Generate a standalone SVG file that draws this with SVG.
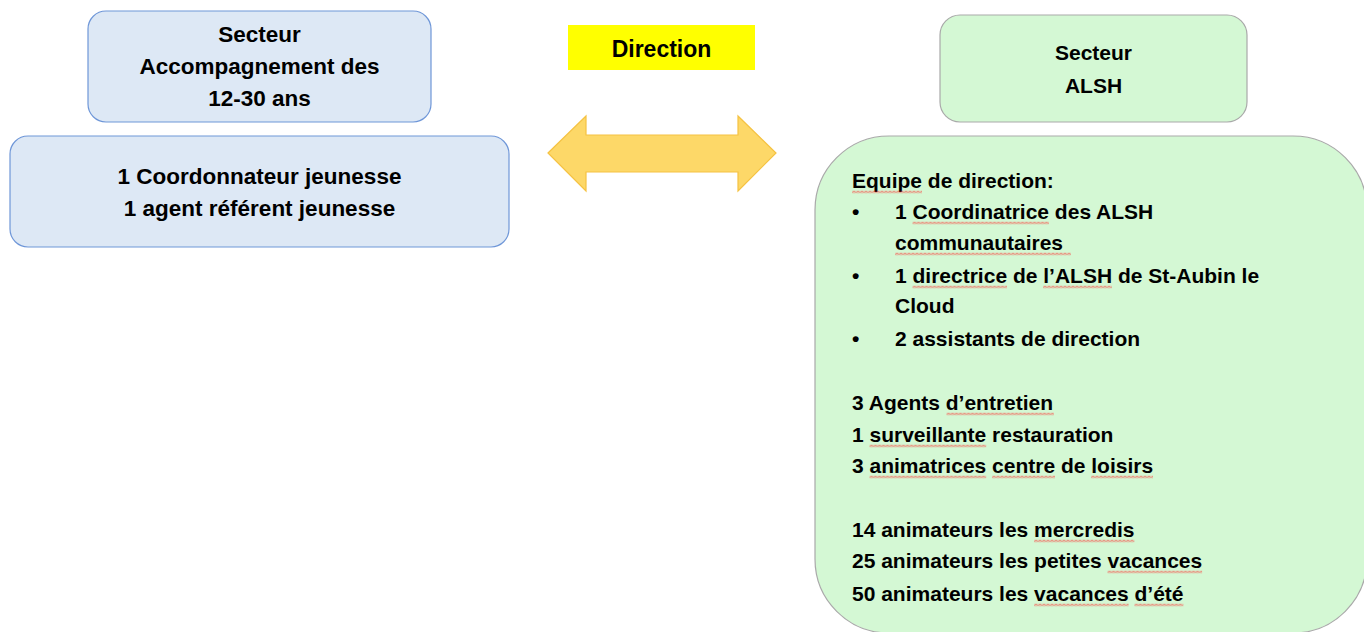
<svg xmlns="http://www.w3.org/2000/svg" width="1364" height="632" viewBox="0 0 1364 632">
<defs>
<style>
.t{font-family:"Liberation Sans",Arial,sans-serif;font-weight:bold;font-size:21px;fill:#000}
.L{font-size:22.5px}
.D{font-size:23px}
.c{text-anchor:middle}
.blue{fill:#dde8f5;stroke:#6f97d8;stroke-width:1.2}
.green{fill:#d4f8d4;stroke:#a9a9a9;stroke-width:1.2}
.sq{fill:url(#sq)}
</style>
<pattern id="sq" width="4" height="3" patternUnits="userSpaceOnUse">
<path d="M0,2.5 L2,0.5 L4,2.5" fill="none" stroke="#ff2a2a" stroke-width="1"/>
</pattern>
</defs>
<rect width="1364" height="632" fill="#ffffff"/>
<g id="secteur-jeunesse">
<rect class="blue" x="88" y="11" width="343" height="111" rx="18"/>
<text class="t L c" x="259.5" y="42">Secteur</text>
<text class="t L c" x="259.5" y="74">Accompagnement des</text>
<text class="t L c" x="259.5" y="106">12-30 ans</text>
</g>
<g id="equipe-jeunesse">
<rect class="blue" x="10" y="136" width="499" height="111" rx="18"/>
<text class="t L c" x="259.5" y="184">1 Coordonnateur jeunesse</text>
<text class="t L c" x="259.5" y="216">1 agent référent jeunesse</text>
</g>
<g id="direction">
<rect x="568" y="25" width="187" height="45" fill="#ffff00"/>
<text class="t D c" x="661.5" y="57">Direction</text>
</g>
<g id="connectors">
<path d="M548,153 L586,116 L586,135 L738,135 L738,116 L776,153 L738,191 L738,172 L586,172 L586,191 Z" fill="#fdd868" stroke="#f5c242" stroke-width="1.2"/>
</g>
<g id="secteur-alsh">
<rect class="green" x="940" y="15" width="307" height="107" rx="20"/>
<text class="t c" x="1093.5" y="60">Secteur</text>
<text class="t c" x="1093.5" y="93">ALSH</text>
</g>
<g id="equipe-alsh">
<rect class="green" x="815" y="136" width="552" height="497" rx="74"/>
<text class="t" x="852" y="188">Equipe de direction:</text>
<text class="t" x="852" y="219">•</text>
<text class="t" x="895" y="219">1 Coordinatrice des ALSH</text>
<text class="t" x="895" y="250">communautaires</text>
<text class="t" x="852" y="283">•</text>
<text class="t" x="895" y="283">1 directrice de l’ALSH de St-Aubin le</text>
<text class="t" x="895" y="313">Cloud</text>
<text class="t" x="852" y="346">•</text>
<text class="t" x="895" y="346">2 assistants de direction</text>
<text class="t" x="852" y="410">3 Agents d’entretien</text>
<text class="t" x="852" y="442">1 surveillante restauration</text>
<text class="t" x="852" y="473">3 animatrices centre de loisirs</text>
<text class="t" x="852" y="537">14 animateurs les mercredis</text>
<text class="t" x="852" y="568">25 animateurs les petites vacances</text>
<text class="t" x="852" y="601">50 animateurs les vacances d’été</text>
<g id="spellcheck-marks">
<rect class="sq" transform="translate(852,190.5)" width="70" height="3"/>
<rect class="sq" transform="translate(912.5,221.5)" width="136.5" height="3"/>
<rect class="sq" transform="translate(895,252.5)" width="176" height="3"/>
<rect class="sq" transform="translate(912.5,285.5)" width="94.5" height="3"/>
<rect class="sq" transform="translate(1043,285.5)" width="69" height="3"/>
<rect class="sq" transform="translate(946.5,412.5)" width="107.4" height="3"/>
<rect class="sq" transform="translate(869.5,444.5)" width="116.7" height="3"/>
<rect class="sq" transform="translate(869.5,475.5)" width="116.7" height="3"/>
<rect class="sq" transform="translate(992,475.5)" width="63" height="3"/>
<rect class="sq" transform="translate(1091,475.5)" width="62" height="3"/>
<rect class="sq" transform="translate(1034,539.5)" width="100.4" height="3"/>
<rect class="sq" transform="translate(1107.5,570.5)" width="94.6" height="3"/>
<rect class="sq" transform="translate(1034,603.5)" width="94.6" height="3"/>
<rect class="sq" transform="translate(1134.4,603.5)" width="49" height="3"/>
</g>
</g>
</svg>
